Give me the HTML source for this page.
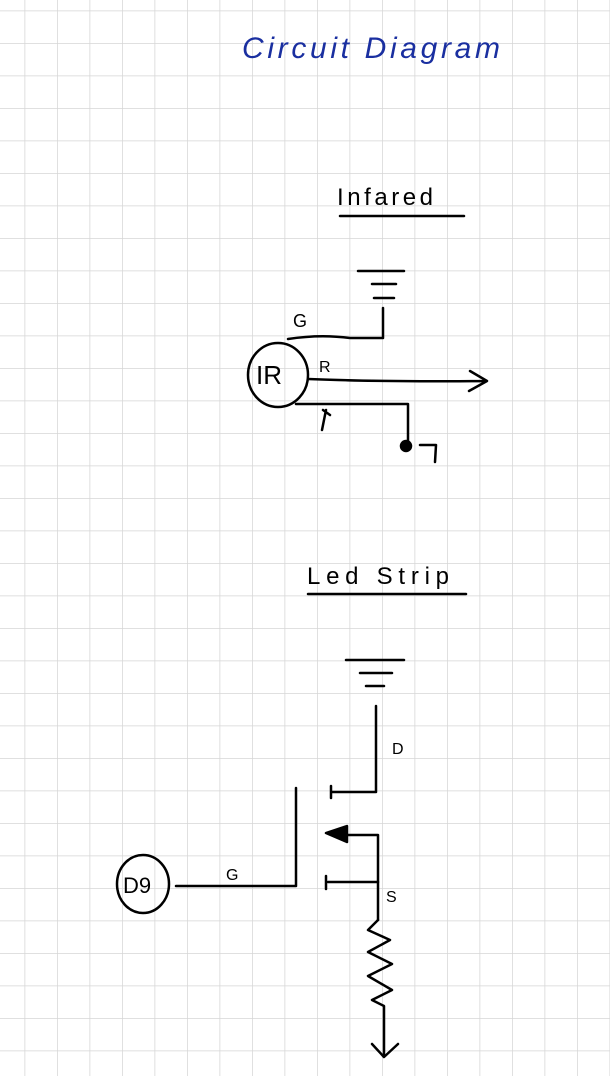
<!DOCTYPE html>
<html><head><meta charset="utf-8"><style>
html,body{margin:0;padding:0;background:#fff;}
svg{display:block;}
</style></head><body>
<svg width="610" height="1076" viewBox="0 0 610 1076" xmlns="http://www.w3.org/2000/svg">
<defs>
<pattern id="grid" x="24.5" y="10.5" width="32.5" height="32.5" patternUnits="userSpaceOnUse">
<path d="M0 0V32.5M0 0H32.5" stroke="#d6d6d6" stroke-width="1.5" fill="none"/>
</pattern>
</defs>
<rect width="610" height="1076" fill="url(#grid)"/>
<text x="242" y="58" font-family="Liberation Sans, sans-serif" font-style="italic" font-size="30" fill="#1a2fa0" textLength="258">Circuit Diagram</text>
<g stroke="#000" stroke-width="2.5" fill="none" stroke-linecap="round" stroke-linejoin="round">
<g>
<text x="337" y="205" font-family="Liberation Sans, sans-serif" font-size="24" fill="#000" stroke="none" textLength="96">Infared</text>
<path d="M340 216 H464"/>
<path d="M358 271 H404 M372 284 H396 M374 298 H394"/>
<path d="M383 308 V338 H350 Q320 334 288 339"/>
<text x="293" y="327" font-family="Liberation Sans, sans-serif" font-size="18" fill="#000" stroke="none">G</text>
<ellipse cx="278" cy="375" rx="30" ry="32"/>
<text x="256" y="384" font-family="Liberation Sans, sans-serif" font-size="26" fill="#000" stroke="none">IR</text>
<text x="319" y="372" font-family="Liberation Sans, sans-serif" font-size="16" fill="#000" stroke="none">R</text>
<path d="M308 379 Q380 382 485 381 M470 371 L487 381 L469 391"/>
<path d="M296 404 H408 V447"/>
<circle cx="406" cy="446" r="5" fill="#000"/>
<path d="M420 445 H436 L435 462"/>
<path d="M326 410 L322 430 M323 410 L330 415"/>
</g>
<g>
<text x="307" y="584" font-family="Liberation Sans, sans-serif" font-size="24" fill="#000" stroke="none" textLength="142">Led Strip</text>
<path d="M308 594 H466"/>
<path d="M346 660 H404 M360 673 H392 M366 686 H384"/>
<path d="M376 706 V792 H332 M331 786 V798"/>
<text x="392" y="754" font-family="Liberation Sans, sans-serif" font-size="16" fill="#000" stroke="none">D</text>
<path d="M296 788 V886 H176"/>
<text x="226" y="880" font-family="Liberation Sans, sans-serif" font-size="16" fill="#000" stroke="none">G</text>
<ellipse cx="143" cy="884" rx="26" ry="29"/>
<text x="123" y="893" font-family="Liberation Sans, sans-serif" font-size="22" fill="#000" stroke="none">D9</text>
<path d="M326 876 V889 M328 882 H378 V920"/>
<text x="386" y="902" font-family="Liberation Sans, sans-serif" font-size="16" fill="#000" stroke="none">S</text>
<path d="M346 835 H378 V882"/>
<path d="M326 833 L347 826 L347 842 Z" fill="#000"/>
<path d="M378 920 L368 930 L390 940 L368 952 L392 964 L368 976 L392 990 L372 1000 L384 1006 V1056"/>
<path d="M372 1044 L384 1057 L398 1044"/>
</g>
</g>
</svg>
</body></html>
